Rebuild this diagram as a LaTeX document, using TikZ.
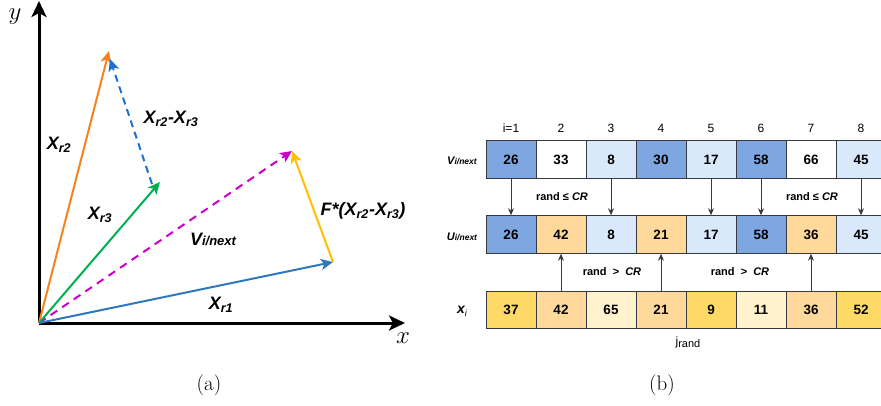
\documentclass[tikz,border=0pt]{standalone}
\usepackage{fontspec}
\setsansfont{Liberation Sans}
\usetikzlibrary{arrows.meta}
\definecolor{vorange}{HTML}{F5821F}
\definecolor{vblue}{HTML}{2E78BE}
\definecolor{vdash}{HTML}{1F6FD0}
\definecolor{vgreen}{HTML}{00B050}
\definecolor{vmag}{HTML}{CC00CC}
\definecolor{vyellow}{HTML}{FFC000}
\definecolor{cdark}{HTML}{7EA6E0}
\definecolor{clight}{HTML}{DAE8FC}
\definecolor{cmid}{HTML}{FFD99B}
\definecolor{cgold}{HTML}{FFD966}
\definecolor{cpale}{HTML}{FFF2CC}
\definecolor{cline}{HTML}{36393D}
\tikzset{vec/.style={line width=2pt, -{Stealth[length=12pt,width=11pt,inset=3pt]}},
  axis/.style={line width=3pt, -{Stealth[length=16pt,width=15pt,inset=4pt]}},
  lbl/.style={font=\sffamily\bfseries\itshape\fontsize{18}{20}\selectfont},
  cell/.style={draw=cline, line width=1pt, minimum width=50pt, minimum height=37.5pt, inner sep=0pt, font=\sffamily\bfseries\fontsize{13.5}{15}\selectfont},
  pin/.style={draw=cline, line width=1pt, -{Stealth[length=7pt,width=6pt]}},
  idx/.style={font=\sffamily\fontsize{12}{14}\selectfont},
  cond/.style={font=\sffamily\bfseries\fontsize{11}{13}\selectfont}}

\begin{document}
\begin{tikzpicture}[x=1pt, y=-1pt]
  \useasboundingbox (0,0) rectangle (881,405);
  % axes
  \coordinate (O) at (39,323);
  \coordinate (ytip) at (39,1);
  \coordinate (xtip) at (405,323);
  \draw[axis] (O) -- (ytip);
  \draw[axis] (O) -- (xtip);
  \node[font=\fontsize{25}{27}\selectfont] (ylab) at (15,17) {$y$};
  \node[font=\fontsize{25}{27}\selectfont] (xlab) at (403,338) {$x$};
  % vectors
  \coordinate (r1) at (333,262);
  \coordinate (r2) at (109,51);
  \coordinate (r3) at (160,182);
  \coordinate (d0) at (152,184);
  \coordinate (d1) at (110,59);
  \coordinate (v) at (292,151);
  \draw[vec, vmag, dash pattern=on 8pt off 6pt] (O) -- (v);
  \draw[vec, vorange] (O) -- (r2);
  \draw[vec, vgreen] (O) -- (r3);
  \draw[vec, vblue] (O) -- (r1);
  \draw[vec, vdash, dash pattern=on 7pt off 5pt] (d0) -- (d1);
  \draw[vec, vyellow] (r1) -- (v);
  \node[lbl] (lr2) at (59,145) {X\textsubscript{r2}};
  \node[lbl] (ldiff) at (171,119) {X\textsubscript{r2}-X\textsubscript{r3}};
  \node[lbl] (lr3) at (100,215) {X\textsubscript{r3}};
  \node[lbl] (lv) at (213,239) {V{\fontsize{13}{13}\selectfont i/next}};
  \node[lbl] (lf) at (363,211) {F*(X\textsubscript{r2}-X\textsubscript{r3})};
  \node[lbl] (lr1) at (221,305) {X\textsubscript{r1}};
  \node[font=\fontsize{21}{23}\selectfont] (capa) at (209,385) {(a)};
  % index row
  \node[idx] (i1) at (511,128) {i=1};
  \node[idx] (i2) at (561,128) {2};   \node[idx] (i3) at (611,128) {3};
  \node[idx] (i4) at (661,128) {4};   \node[idx] (i5) at (711,128) {5};
  \node[idx] (i6) at (761,128) {6};   \node[idx] (i7) at (811,128) {7};
  \node[idx] (i8) at (861,128) {8};
  % V row
  \node[font=\sffamily\bfseries\itshape\fontsize{11}{13}\selectfont] (lblv) at (462,161) {V{\fontsize{8.5}{9}\selectfont i/next}};
  \node[cell, fill=cdark] (v1) at (511,159.5) {26};
  \node[cell, fill=white] (v2) at (561,159.5) {33};
  \node[cell, fill=clight] (v3) at (611,159.5) {8};
  \node[cell, fill=cdark] (v4) at (661,159.5) {30};
  \node[cell, fill=clight] (v5) at (711,159.5) {17};
  \node[cell, fill=cdark] (v6) at (761,159.5) {58};
  \node[cell, fill=white] (v7) at (811,159.5) {66};
  \node[cell, fill=clight] (v8) at (861,159.5) {45};
  % U row
  \node[font=\sffamily\bfseries\itshape\fontsize{11}{13}\selectfont] (lblu) at (462,237) {U{\fontsize{8.5}{9}\selectfont i/next}};
  \node[cell, fill=cdark] (u1) at (511,234.5) {26};
  \node[cell, fill=cmid] (u2) at (561,234.5) {42};
  \node[cell, fill=clight] (u3) at (611,234.5) {8};
  \node[cell, fill=cmid] (u4) at (661,234.5) {21};
  \node[cell, fill=clight] (u5) at (711,234.5) {17};
  \node[cell, fill=cdark] (u6) at (761,234.5) {58};
  \node[cell, fill=cmid] (u7) at (811,234.5) {36};
  \node[cell, fill=clight] (u8) at (861,234.5) {45};
  % x row
  \node[font=\sffamily\bfseries\itshape\fontsize{14}{15}\selectfont] (lblx) at (462,311) {x\raisebox{-3pt}{\fontsize{9}{9}\selectfont\mdseries i}};
  \node[cell, fill=cgold] (x1) at (511,310) {37};
  \node[cell, fill=cmid] (x2) at (561,310) {42};
  \node[cell, fill=cpale] (x3) at (611,310) {65};
  \node[cell, fill=cmid] (x4) at (661,310) {21};
  \node[cell, fill=cgold] (x5) at (711,310) {9};
  \node[cell, fill=cpale] (x6) at (761,310) {11};
  \node[cell, fill=cmid] (x7) at (811,310) {36};
  \node[cell, fill=cgold] (x8) at (861,310) {52};
  % crossover arrows
  \draw[pin] (v1.south) -- (u1.north);
  \draw[pin] (v3.south) -- (u3.north);
  \draw[pin] (v5.south) -- (u5.north);
  \draw[pin] (v6.south) -- (u6.north);
  \draw[pin] (v8.south) -- (u8.north);
  \draw[pin] (x2.north) -- (u2.south);
  \draw[pin] (x4.north) -- (u4.south);
  \draw[pin] (x7.north) -- (u7.south);
  \node[cond] (c1) at (562,197) {rand ≤ \textit{CR}};
  \node[cond] (c2) at (812,197) {rand ≤ \textit{CR}};
  \node[cond] (c3) at (612,272) {rand \ > \ \textit{CR}};
  \node[cond] (c4) at (740,272) {rand \ > \ \textit{CR}};
  \node[font=\sffamily\fontsize{12}{14}\selectfont] (jr) at (688,342) {j\raisebox{-2pt}{\fontsize{11}{12}\selectfont rand}};
  \node[font=\fontsize{21}{23}\selectfont] (capb) at (662,385) {(b)};
\end{tikzpicture}
\end{document}
